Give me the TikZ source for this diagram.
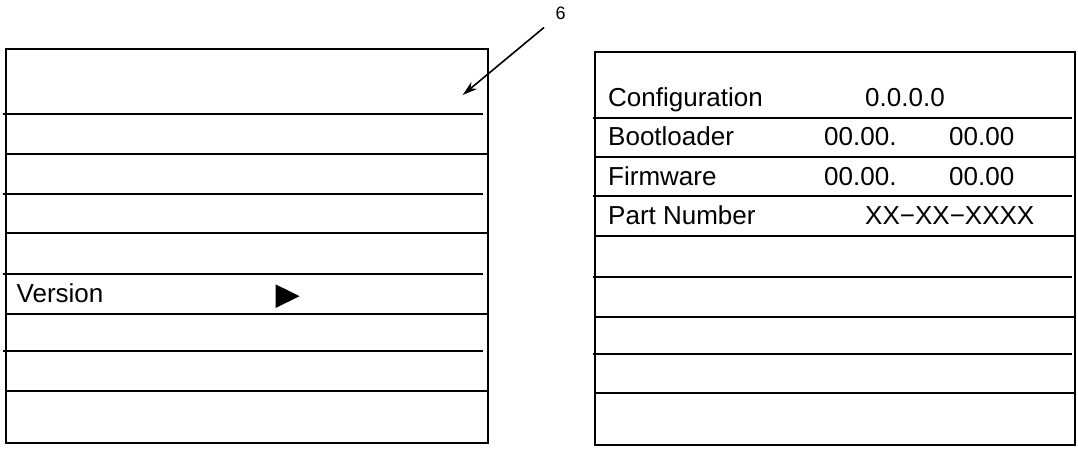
\documentclass[tikz,border=0pt]{standalone}
\usepackage{fontspec}
\setmainfont{Liberation Sans}
\usetikzlibrary{arrows.meta}
\begin{document}
\begin{tikzpicture}[x=1pt,y=-1pt,
  panel/.style={draw,line width=2pt,inner sep=0pt,anchor=north west},
  rowline/.style={line width=2pt},
  txt/.style={anchor=base west,inner sep=0pt,font=\fontsize{26}{30}\selectfont},
  lbl/.style={anchor=base west,inner sep=0pt,font=\fontsize{18}{20}\selectfont},
  pointer/.style={line width=1.6pt,-{Stealth[length=15pt,width=9pt]}}]
\useasboundingbox (0,0) rectangle (1078,454);
% left panel
\node[panel,minimum width=481.7pt,minimum height=393.7pt] (L) at (5,48.3) {};
\foreach \y in {114.3,193.7,274,351.3} \draw[rowline] (3,\y) -- (483.3,\y);
\foreach \y in {154,233.3,314.3,391.3} \draw[rowline] (5,\y) -- (486.7,\y);
\node[txt] (ver) at (16.5,302.7) {Version};
\fill (275.5,284.3) -- (299.6,296.2) -- (275.5,308) -- cycle;
% right panel
\node[panel,minimum width=480pt,minimum height=393.3pt] (R) at (594,50.7) {};
\foreach \y in {117.7,195.7,277,354} \draw[rowline] (592.5,\y) -- (1072,\y);
\foreach \y in {156.7,235.7,316.7,393} \draw[rowline] (594,\y) -- (1074,\y);
\node[txt] (cfg) at (608,106.7) {Configuration};
\node[txt] (cfgv) at (865,106.7) {0.0.0.0};
\node[txt] (boot) at (608,145.7) {Bootloader};
\node[txt] (boota) at (824,145.7) {00.00.};
\node[txt] (bootb) at (949,145.7) {00.00};
\node[txt] (fw) at (608,185.7) {Firmware};
\node[txt] (fwa) at (824,185.7) {00.00.};
\node[txt] (fwb) at (949,185.7) {00.00};
\node[txt] (pn) at (608,225) {Part Number};
\node[txt] (pnv) at (865,225) {XX−XX−XXXX};
% callout
\node[lbl] (six) at (555.5,19.3) {6};
\coordinate (tail) at (544,27.5);
\coordinate (tip) at (462.7,95);
\draw[pointer] (tail) -- (tip);
\end{tikzpicture}
\end{document}
